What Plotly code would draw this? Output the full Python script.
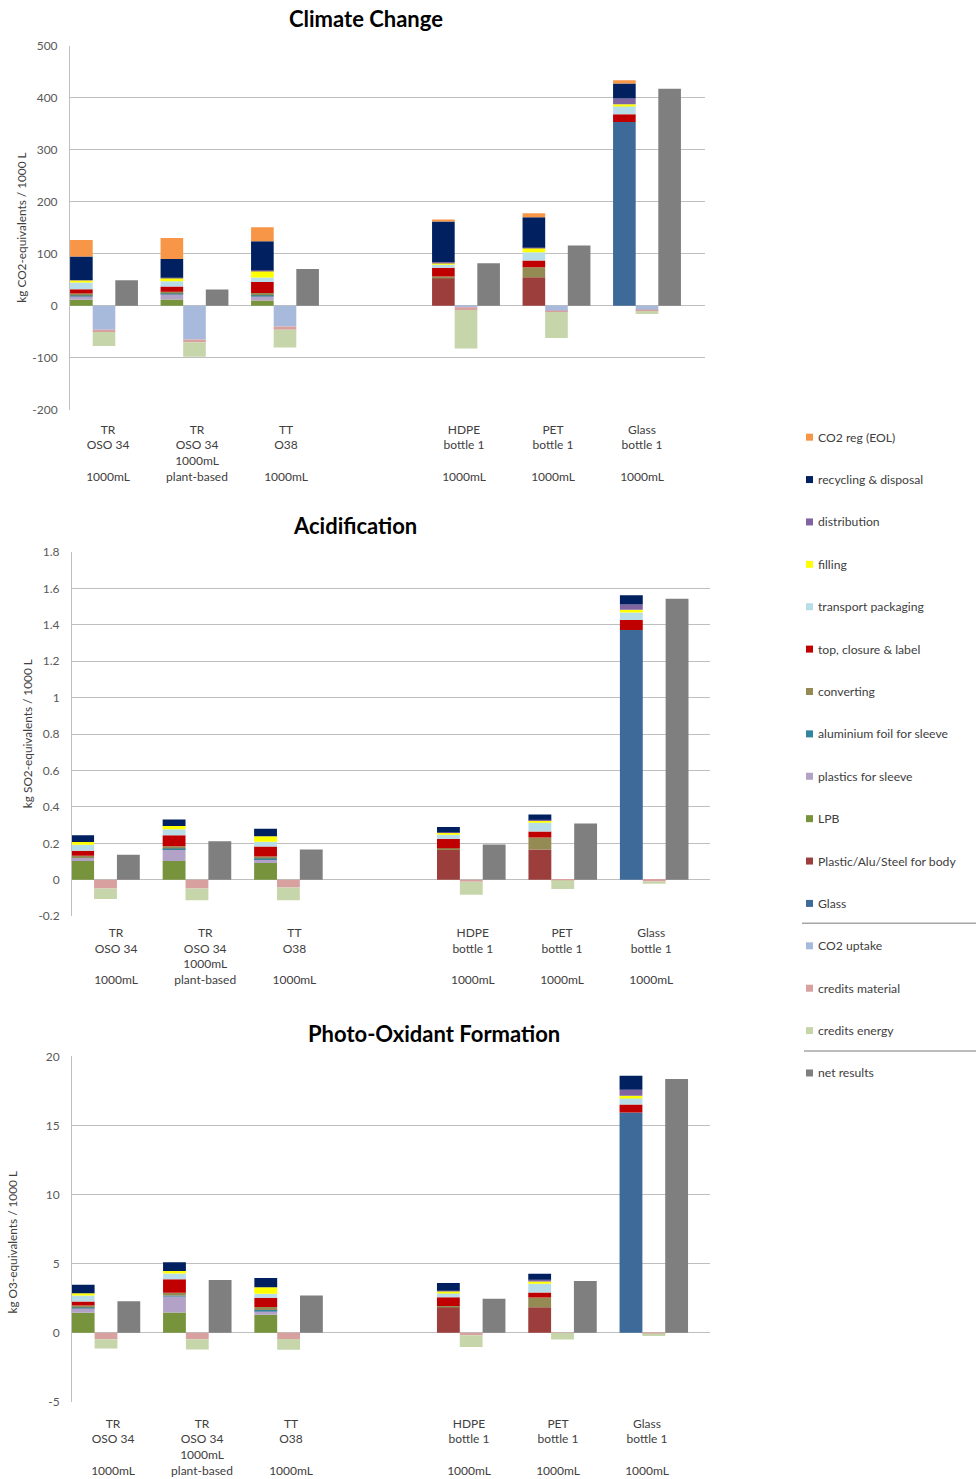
import plotly.graph_objects as go

# ---------------------------------------------------------------------------
# Categories (slot 3 is an empty spacer column between cartons and bottles)
# ---------------------------------------------------------------------------
category_labels = [
    "TR<br>OSO 34<br> <br>1000mL",
    "TR<br>OSO 34<br>1000mL<br>plant-based",
    "TT<br>O38<br> <br>1000mL",
    "",
    "HDPE<br>bottle 1<br> <br>1000mL",
    "PET<br>bottle 1<br> <br>1000mL",
    "Glass<br>bottle 1<br> <br>1000mL",
]

# Life-cycle steps, stacking order bottom -> top
component_names = [
    "Glass", "Plastic/Alu/Steel for body", "LPB", "plastics for sleeve",
    "aluminium foil for sleeve", "converting", "top, closure & label",
    "transport packaging", "filling", "distribution",
    "recycling & disposal", "CO2 reg (EOL)",
]
component_colors = [
    "#3E6A9A", "#9C3F3C", "#77933C", "#B3A2C7",
    "#31859C", "#948A54", "#C00000",
    "#B7DEE8", "#FFFF00", "#8064A2",
    "#002060", "#F79646",
]
credit_names = ["CO2 uptake", "credits material", "credits energy"]
credit_colors = ["#A8BADC", "#D9A0A0", "#C6D6AA"]
net_name = "net results"
net_color = "#7F7F7F"

# ---------------------------------------------------------------------------
# Climate Change  [kg CO2-equivalents / 1000 L]
# ---------------------------------------------------------------------------
cc_glass        = [0, 0, 0, None, 0, 0, 353]
cc_body         = [0, 0, 0, None, 54, 55, 0]
cc_lpb          = [11.5, 12, 10, None, 0, 0, 0]
cc_sleeve_pl    = [8, 11, 9, None, 0, 0, 0]
cc_sleeve_alu   = [1, 1, 1, None, 0, 0, 0]
cc_converting   = [3, 3, 4.5, None, 2, 19, 0]
cc_closure      = [8, 10, 21, None, 17, 13, 15]
cc_transport    = [13, 10, 9, None, 6, 16, 16]
cc_filling      = [4.5, 6.5, 13, None, 4, 8, 3]
cc_distribution = [0.5, 0.5, 0.5, None, 1, 1, 11]
cc_recycling    = [45, 36, 56, None, 78, 58, 29]
cc_co2_reg      = [32, 40, 27, None, 2.5, 7.7, 6.4]
cc_co2_uptake   = [-46, -65, -40, None, -3, -11, -9]
cc_cred_mat     = [-4.5, -5, -6, None, -5, -1, -1]
cc_cred_energy  = [-27, -28, -34, None, -74, -50, -6]
cc_net          = [49, 31, 70.5, None, 81.5, 116, 417]

# ---------------------------------------------------------------------------
# Acidification  [kg SO2-equivalents / 1000 L]
# ---------------------------------------------------------------------------
ac_glass        = [0, 0, 0, None, 0, 0, 1.371]
ac_body         = [0, 0, 0, None, 0.166, 0.166, 0]
ac_lpb          = [0.103, 0.103, 0.092, None, 0, 0, 0]
ac_sleeve_pl    = [0.018, 0.066, 0.022, None, 0, 0, 0]
ac_sleeve_alu   = [0.004, 0.003, 0.003, None, 0, 0, 0]
ac_converting   = [0.007, 0.013, 0.011, None, 0.007, 0.066, 0]
ac_closure      = [0.028, 0.060, 0.055, None, 0.051, 0.033, 0.055]
ac_transport    = [0.033, 0.033, 0.026, None, 0.024, 0.048, 0.042]
ac_filling      = [0.015, 0.017, 0.031, None, 0.011, 0.015, 0.015]
ac_distribution = [0, 0, 0, None, 0.002, 0.002, 0.029]
ac_recycling    = [0.037, 0.037, 0.040, None, 0.029, 0.029, 0.051]
ac_co2_reg      = [0, 0, 0, None, 0, 0, 0]
ac_co2_uptake   = [0, 0, 0, None, 0, 0, 0]
ac_cred_mat     = [-0.048, -0.048, -0.042, None, -0.011, -0.002, -0.009]
ac_cred_energy  = [-0.057, -0.064, -0.070, None, -0.071, -0.048, -0.013]
ac_net          = [0.138, 0.212, 0.166, None, 0.194, 0.309, 1.543]

# ---------------------------------------------------------------------------
# Photo-Oxidant Formation  [kg O3-equivalents / 1000 L]
# ---------------------------------------------------------------------------
po_glass        = [0, 0, 0, None, 0, 0, 15.93]
po_body         = [0, 0, 0, None, 1.86, 1.83, 0]
po_lpb          = [1.44, 1.46, 1.30, None, 0, 0, 0]
po_sleeve_pl    = [0.34, 1.18, 0.29, None, 0, 0, 0]
po_sleeve_alu   = [0.05, 0.05, 0.05, None, 0, 0, 0]
po_converting   = [0.14, 0.19, 0.22, None, 0.07, 0.72, 0]
po_closure      = [0.29, 0.99, 0.67, None, 0.63, 0.36, 0.58]
po_transport    = [0.43, 0.41, 0.29, None, 0.31, 0.63, 0.51]
po_filling      = [0.17, 0.19, 0.46, None, 0.12, 0.17, 0.14]
po_distribution = [0, 0, 0, None, 0.05, 0.12, 0.43]
po_recycling    = [0.60, 0.62, 0.67, None, 0.55, 0.43, 1.01]
po_co2_reg      = [0, 0, 0, None, 0, 0, 0]
po_co2_uptake   = [0, 0, 0, None, 0, 0, 0]
po_cred_mat     = [-0.48, -0.48, -0.46, None, -0.19, -0.02, -0.12]
po_cred_energy  = [-0.67, -0.74, -0.77, None, -0.84, -0.48, -0.12]
po_net          = [2.28, 3.82, 2.69, None, 2.46, 3.74, 18.36]

# ---------------------------------------------------------------------------
# Page geometry (pixels)
# ---------------------------------------------------------------------------
W, H = 976, 1479
FONT = "Lato"
GRID = "#BFBFBF"
TXT = "#595959"

# vertical page calibration: offset and scale of the drawn page
Y_OFF, Y_SCALE = 8.5, 0.989


def px_x(v):
    return v / W


def px_y(v):
    return 1 - ((v - Y_OFF) / Y_SCALE) / H


panels = [
    dict(title="Climate Change", title_pos=(366, 19),
         ytitle="kg CO2-equivalents / 1000 L", ytitle_pos=(22, 228),
         box=(70, 705, 46, 410), groups=(104, 90.5), labels=(108, 89), lab_gap=11,
         yrange=(-200, 500), dtick=100,
         comps=[cc_glass, cc_body, cc_lpb, cc_sleeve_pl, cc_sleeve_alu, cc_converting,
                cc_closure, cc_transport, cc_filling, cc_distribution, cc_recycling, cc_co2_reg],
         creds=[cc_co2_uptake, cc_cred_mat, cc_cred_energy], net=cc_net),
    dict(title="Acidification", title_pos=(355, 526),
         ytitle="kg SO2-equivalents / 1000 L", ytitle_pos=(27, 734),
         box=(72, 710, 552, 916), groups=(105.5, 91.45), labels=(116, 89.2), lab_gap=8,
         yrange=(-0.2, 1.8), dtick=0.2,
         comps=[ac_glass, ac_body, ac_lpb, ac_sleeve_pl, ac_sleeve_alu, ac_converting,
                ac_closure, ac_transport, ac_filling, ac_distribution, ac_recycling, ac_co2_reg],
         creds=[ac_co2_uptake, ac_cred_mat, ac_cred_energy], net=ac_net),
    dict(title="Photo-Oxidant Formation", title_pos=(434, 1033),
         ytitle="kg O3-equivalents / 1000 L", ytitle_pos=(13, 1242),
         box=(72, 710, 1056, 1401), groups=(106, 91.3), labels=(113, 89), lab_gap=13,
         yrange=(-5, 20), dtick=5,
         comps=[po_glass, po_body, po_lpb, po_sleeve_pl, po_sleeve_alu, po_converting,
                po_closure, po_transport, po_filling, po_distribution, po_recycling, po_co2_reg],
         creds=[po_co2_uptake, po_cred_mat, po_cred_energy], net=po_net),
]

slots = list(range(len(category_labels)))
BW = 0.25  # bar width in category units

fig = go.Figure()
annotations = []
shapes = []
layout_axes = {}

for k, p in enumerate(panels):
    sfx = "" if k == 0 else str(k + 1)
    xa, ya = "x" + sfx, "y" + sfx
    xl = "x" + str(k + 4)
    left, right, top, bottom = p["box"]
    g0, gstep = p["groups"]
    l0, lstep = p["labels"]

    pos_stack = [s - BW for s in slots]
    pos_credit = list(slots)
    pos_net = [s + BW for s in slots]

    for name, color, vals in zip(component_names, component_colors, p["comps"]):
        fig.add_trace(go.Bar(x=pos_stack, y=vals, width=BW, name=name,
                             marker=dict(color=color, line=dict(width=0)),
                             xaxis=xa, yaxis=ya, showlegend=False))
    for name, color, vals in zip(credit_names, credit_colors, p["creds"]):
        fig.add_trace(go.Bar(x=pos_credit, y=vals, width=BW, name=name,
                             marker=dict(color=color, line=dict(width=0)),
                             xaxis=xa, yaxis=ya, showlegend=False))
    fig.add_trace(go.Bar(x=pos_net, y=p["net"], width=BW, name=net_name,
                         marker=dict(color=net_color, line=dict(width=0)),
                         xaxis=xa, yaxis=ya, showlegend=False))
    # carrier for the category label axis
    fig.add_trace(go.Scatter(x=[None], y=[None], xaxis=xl, yaxis=ya,
                             showlegend=False, hoverinfo="skip"))

    dom_x = [px_x(left), px_x(right)]
    dom_y = [px_y(bottom), px_y(top)]

    r0 = -(g0 - left) / gstep
    r1 = r0 + (right - left) / gstep
    lr0 = -(l0 - left) / lstep
    lr1 = lr0 + (right - left) / lstep

    lo, hi = p["yrange"]
    n = int(round((hi - lo) / p["dtick"]))
    tvals = [round(lo + i * p["dtick"], 6) for i in range(n + 1)]
    ttext = [f"{v:g}" for v in tvals]

    layout_axes["xaxis" + sfx] = dict(domain=dom_x, range=[r0, r1], anchor=ya,
                                      showgrid=False, zeroline=False, showline=False,
                                      showticklabels=False, fixedrange=True)
    layout_axes["yaxis" + sfx] = dict(domain=dom_y, range=[lo, hi], anchor=xa,
                                      tickvals=tvals, ticktext=ttext,
                                      showgrid=True, gridcolor=GRID, gridwidth=1,
                                      zeroline=False, showline=True, linecolor=GRID,
                                      linewidth=1, ticks="", ticklabelstandoff=9,
                                      tickfont=dict(size=12, color=TXT, family=FONT))
    layout_axes["xaxis" + str(k + 4)] = dict(overlaying=xa, anchor=ya, side="bottom",
                                             range=[lr0, lr1], tickvals=slots,
                                             ticktext=category_labels,
                                             showgrid=False, zeroline=False,
                                             showline=False, ticks="",
                                             ticklabelstandoff=p["lab_gap"],
                                             tickfont=dict(size=12, color="#404040",
                                                           family=FONT))

    annotations.append(dict(text="<b>" + p["title"] + "</b>", xref="paper", yref="paper",
                            x=px_x(p["title_pos"][0]), y=px_y(p["title_pos"][1]),
                            xanchor="center", yanchor="middle", showarrow=False,
                            font=dict(size=22, color="#000000", family=FONT)))
    annotations.append(dict(text=p["ytitle"], xref="paper", yref="paper",
                            x=px_x(p["ytitle_pos"][0]), y=px_y(p["ytitle_pos"][1]),
                            xanchor="center", yanchor="middle", textangle=-90,
                            showarrow=False,
                            font=dict(size=11.8, color="#404040", family=FONT)))

# ---------------------------------------------------------------------------
# Legend column on the right
# ---------------------------------------------------------------------------
legend_entries = (list(zip(component_names, component_colors))[::-1]
                  + list(zip(credit_names, credit_colors))
                  + [(net_name, net_color)])
LEG_TOP, LEG_STEP = 437.3, 42.35
for i, (name, color) in enumerate(legend_entries):
    yc = LEG_TOP + i * LEG_STEP
    shapes.append(dict(type="rect", xref="paper", yref="paper",
                       x0=px_x(806), x1=px_x(813), y0=px_y(yc + 3.5), y1=px_y(yc - 3.5),
                       fillcolor=color, line=dict(width=0)))
    annotations.append(dict(text=name, xref="paper", yref="paper",
                            x=px_x(816), y=px_y(yc), xanchor="left", yanchor="middle",
                            showarrow=False,
                            font=dict(size=12.2, color="#404040", family=FONT)))

for ysep, xstart in ((923, 802), (1050.7, 804)):
    shapes.append(dict(type="line", xref="paper", yref="paper",
                       x0=px_x(xstart), x1=1, y0=px_y(ysep), y1=px_y(ysep),
                       line=dict(color="#A6A6A6", width=1.5)))

fig.update_layout(
    width=W, height=H,
    autosize=False,
    margin=dict(l=0, r=0, t=0, b=0),
    paper_bgcolor="white", plot_bgcolor="white",
    barmode="relative",
    showlegend=False,
    font=dict(family=FONT, color=TXT),
    annotations=annotations,
    shapes=shapes,
    **layout_axes,
)

fig.write_html("out.html")
